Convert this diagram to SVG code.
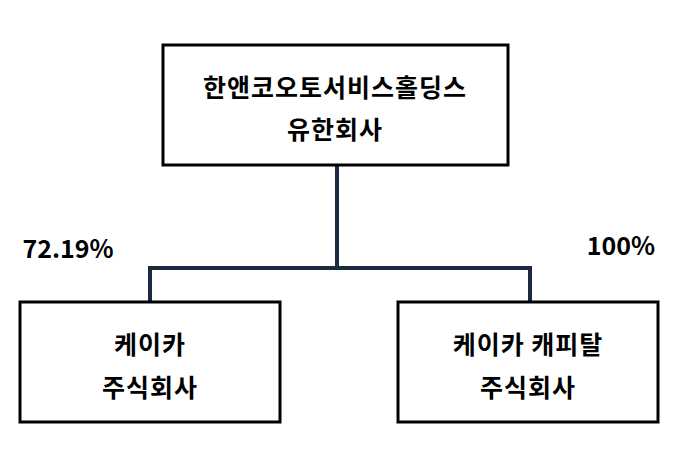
<svg xmlns="http://www.w3.org/2000/svg" width="680" height="463" viewBox="0 0 680 463">
<style>
.box{fill:#fff;stroke:#000;stroke-width:3}
.ln{stroke:#1b2a41;stroke-width:4;fill:none}
text{font-family:"Noto Sans CJK KR","Noto Sans",sans-serif;font-weight:bold;font-size:25px;fill:#000;text-anchor:middle}
.pct{font-size:25px}
</style>
<rect width="680" height="463" fill="#fff"/>
<g id="connectors">
<path class="ln" d="M337 165V268M150 302V268H530V302"/>
</g>
<g id="top"><rect class="box" x="163" y="45" width="345" height="120"/>
<text x="335" y="97" letter-spacing="1">한앤코오토서비스홀딩스</text><text x="335" y="139" letter-spacing="1">유한회사</text></g>
<g id="left"><rect class="box" x="20" y="302" width="260" height="120"/>
<text x="150" y="354" letter-spacing="1">케이카</text><text x="150" y="397" letter-spacing="1">주식회사</text></g>
<g id="right"><rect class="box" x="398" y="302" width="260" height="120"/>
<text x="528" y="354" letter-spacing="1">케이카 캐피탈</text><text x="528" y="397" letter-spacing="1">주식회사</text></g>
<text class="pct" x="68" y="258">72.19%</text>
<text class="pct" x="621" y="255">100%</text>
</svg>
